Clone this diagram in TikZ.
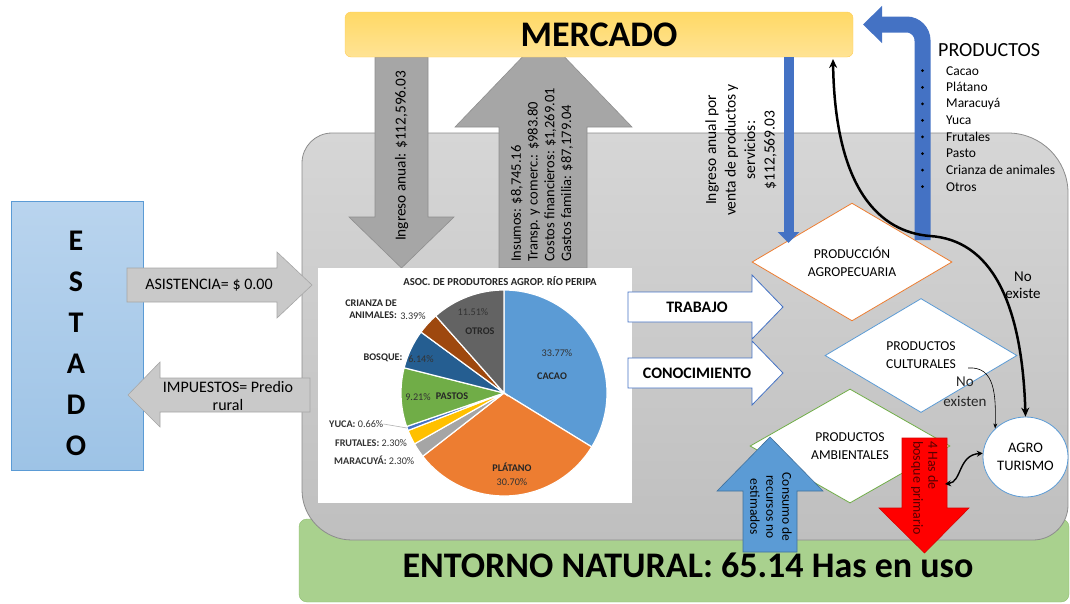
\documentclass[tikz,border=0pt]{standalone}
\usepackage{fontspec}
\setmainfont{Carlito}
\usepackage{tikz}
\usetikzlibrary{arrows.meta,positioning,shapes.geometric,calc}

\definecolor{sysgray}{HTML}{BFBFBF}
\definecolor{systop}{HTML}{D6D6D6}
\definecolor{sysline}{HTML}{8C8C8C}
\definecolor{natgreen}{HTML}{A9D18E}
\definecolor{natline}{HTML}{8CBD6C}
\definecolor{mktgold}{HTML}{FFD966}
\definecolor{mktlight}{HTML}{FFE394}
\definecolor{estblue}{HTML}{9DC3E6}
\definecolor{estlight}{HTML}{B9D4EE}
\definecolor{estline}{HTML}{5B9BD5}
\definecolor{flowgray}{HTML}{A6A6A6}
\definecolor{flowline}{HTML}{8F8F8F}
\definecolor{taxgray}{HTML}{C9C9C9}
\definecolor{taxline}{HTML}{A6A6A6}
\definecolor{prodblue}{HTML}{4472C4}
\definecolor{skyblue}{HTML}{5B9BD5}
\definecolor{skyline}{HTML}{41719C}
\definecolor{agroorange}{HTML}{ED7D31}
\definecolor{agrogreen}{HTML}{70AD47}
% pie colours
\definecolor{pcacao}{HTML}{5B9BD5}
\definecolor{pplatano}{HTML}{ED7D31}
\definecolor{pmaracuya}{HTML}{A5A5A5}
\definecolor{pfrutales}{HTML}{FFC000}
\definecolor{pyuca}{HTML}{4472C4}
\definecolor{ppastos}{HTML}{70AD47}
\definecolor{pbosque}{HTML}{255E91}
\definecolor{pcrianza}{HTML}{9E480E}
\definecolor{potros}{HTML}{636363}

\begin{document}
\begin{tikzpicture}[x=1pt, y=-1pt,
    every node/.style={inner sep=0pt, align=center},
    pielbl/.style={font=\fontsize{10.2}{12}\selectfont, text=black!80},
    piebold/.style={font=\fontsize{10.2}{12}\selectfont\bfseries, text=black!85},
    flowarrow/.style={fill=flowgray, draw=flowline, line width=0.6pt},
    taxarrow/.style={fill=taxgray, draw=taxline, line width=0.6pt},
    whitearrow/.style={fill=white, draw=prodblue, line width=0.8pt},
    diamondbox/.style={diamond, draw, fill=white, line width=0.8pt, minimum width=200, minimum height=114, font=\fontsize{13.6}{18}\selectfont}]
  \useasboundingbox (0,0) rectangle (1070,603);

  % natural environment and the system
  \draw[fill=natgreen, draw=natline, rounded corners=8pt] (299,519) rectangle (1069,602);
  \draw[top color=systop, bottom color=sysgray, draw=sysline, line width=0.8pt]
    (302,163) arc[start angle=180, end angle=270, radius=30] -- (1008,133)
    arc[start angle=270, end angle=360, radius=60] -- (1068,505)
    arc[start angle=0, end angle=90, radius=35] -- (352,540)
    arc[start angle=90, end angle=180, radius=50] -- cycle;
  \node[font=\fontsize{36}{40}\selectfont\bfseries] (entorno) at (688,565) {ENTORNO NATURAL: 65.14 Has en uso};

  % flows with the market
  \draw[flowarrow] (375,57) -- (428,57) -- (428,217) -- (454,217) -- (401.5,268) -- (349,217) -- (375,217) -- cycle;
  \node[rotate=90, font=\fontsize{15.3}{18}\selectfont] (ingreso) at (401.5,156) {Ingreso anual: \$112,596.03};
  \draw[flowarrow] (499,268) -- (499,127) -- (455,127) -- (543.5,35) -- (632,127) -- (587,127) -- (587,268) -- cycle;
  \node[rotate=90, anchor=west, align=left, font=\fontsize{14.5}{16.7}\selectfont] (costos) at (542,262)
    {Insumos: \$8,745.16\\Transp. y comerc.: \$983.80\\Costos financieros: \$1,269.01\\Gastos familia: \$87,179.04};

  \node[draw=mktgold!85!orange, top color=mktgold, bottom color=mktlight, rounded corners=6pt,
    minimum width=508, minimum height=45, font=\fontsize{36}{40}\selectfont\bfseries] (mercado) at (599,34.5) {MERCADO};

  % state
  \node[draw=estline, top color=estlight, bottom color=estblue, line width=0.8pt,
    minimum width=132, minimum height=269] (estado) at (77,335.5) {};
  \node[font=\fontsize{30}{41}\selectfont\bfseries] (estadotxt) at (76,343) {E\\S\\T\\A\\D\\O};
  \draw[taxarrow] (127,268) -- (277,268) -- (277,252) -- (312,285) -- (277,318) -- (277,302) -- (127,302) -- cycle;
  \node[font=\fontsize{16}{18}\selectfont] (asistencia) at (209,285) {ASISTENCIA= \$ 0.00};
  \draw[taxarrow] (310,378) -- (160,378) -- (160,362) -- (128,395) -- (160,427) -- (160,412) -- (310,412) -- cycle;
  \node[font=\fontsize{16}{18}\selectfont] (impuestos) at (228,396) {IMPUESTOS= Predio\\rural};

  % pie chart
  \node[fill=white, minimum width=314, minimum height=235] (piepanel) at (475,385.5) {};
  \node[font=\fontsize{10.7}{12}\selectfont\bfseries, text=black!85] (pietitle) at (500,281) {ASOC. DE PRODUTORES AGROP. RÍO PERIPA};
  \foreach \pa/\pb/\pc in {-90/31.57/pcacao, 31.57/142.09/pplatano, 142.09/150.37/pmaracuya,
      150.37/158.65/pfrutales, 158.65/161.03/pyuca, 161.03/194.18/ppastos,
      194.18/216.29/pbosque, 216.29/228.49/pcrianza, 228.49/270/potros}
    \filldraw[fill=\pc, draw=white, line width=1.2pt] (504,393) -- ++(\pa:103) arc[start angle=\pa, end angle=\pb, radius=103] -- cycle;
  \node[pielbl] (pcacaoval) at (557,353) {33.77\%};
  \node[piebold] (pcacaotxt) at (552,376) {CACAO};
  \node[piebold] (pplatanotxt) at (512,467) {PLÁTANO};
  \node[pielbl] (pplatanoval) at (512,482) {30.70\%};
  \node[pielbl, anchor=west] (pmaracuyatxt) at (334,460) {\textbf{MARACUYÁ:} 2.30\%};
  \node[pielbl, anchor=west] (pfrutalestxt) at (335,443) {\textbf{FRUTALES:} 2.30\%};
  \node[pielbl, anchor=west] (pyucatxt) at (329,424) {\textbf{YUCA:} 0.66\%};
  \coordinate (yucaslice) at (407,428);
  \draw[black!30, line width=0.6pt] (pyucatxt.east) -- (yucaslice);
  \node[pielbl] (ppastosval) at (418,397) {9.21\%};
  \node[piebold] (ppastostxt) at (452,396) {PASTOS};
  \node[piebold] (pbosquetxt) at (383,358) {BOSQUE:};
  \node[pielbl] (pbosqueval) at (421,359) {6.14\%};
  \node[piebold, anchor=east, align=right] (pcrianzatxt) at (397,309) {CRIANZA DE\\ANIMALES:};
  \node[pielbl] (pcrianzaval) at (413,316) {3.39\%};
  \node[pielbl] (potrosval) at (473,312) {11.51\%};
  \node[piebold] (potrostxt) at (480,331) {OTROS};

  % production
  \node[diamondbox, draw=agroorange] (prodagro) at (852,262) {PRODUCCIÓN\\AGROPECUARIA};
  \node[diamondbox, draw=skyblue, minimum width=192] (prodcult) at (921,355.5) {PRODUCTOS\\CULTURALES};
  \node[diamondbox, draw=agrogreen] (prodamb) at (850,446) {PRODUCTOS\\AMBIENTALES};
  \node[ellipse, draw=skyblue, fill=white, line width=0.8pt, minimum width=85, minimum height=80,
    font=\fontsize{14.5}{18}\selectfont] (agro) at (1025.5,457) {AGRO\\TURISMO};

  \draw[whitearrow] (628,292) -- (752,292) -- (752,275) -- (783,307) -- (752,339) -- (752,322) -- (628,322) -- cycle;
  \node[font=\fontsize{16}{18}\selectfont\bfseries] (trabajo) at (697,307) {TRABAJO};
  \draw[whitearrow] (628,358) -- (752,358) -- (752,341) -- (783,373) -- (752,405) -- (752,388) -- (628,388) -- cycle;
  \node[font=\fontsize{16}{18}\selectfont\bfseries] (conocimiento) at (697,373) {CONOCIMIENTO};

  % income from sales
  \coordinate (ingtip) at (788.5,243);
  \draw[prodblue, line width=10pt, -{Triangle[width=21pt, length=11pt]}] (mercado.south -| ingtip) -- (ingtip);
  \node[rotate=90, font=\fontsize{15.5}{19.5}\selectfont] (ingventa) at (741,150)
    {Ingreso anual por\\venta de productos y\\servicios:\\\$112,569.03};

  % products sold
  \coordinate (prodstart) at (922.5,240);
  \coordinate (prodtip) at (863,24.5);
  \draw[prodblue, line width=16pt, rounded corners=16pt, -{Triangle[width=36pt, length=19pt]}] (prodstart) |- (prodtip);
  \node[font=\fontsize{20}{22}\selectfont, anchor=west] (prodtitle) at (938,50) {PRODUCTOS};
  \foreach \crop [count=\i] in {Cacao, Plátano, Maracuyá, Yuca, Frutales, Pasto, Crianza de animales, Otros} {
    \fill (922.5,70.7+16.57*\i-16.57) circle (1.5pt);
    \node[font=\fontsize{13.5}{15}\selectfont, anchor=west] (crop\i) at (946,70.7+16.57*\i-16.57) {\crop};
  }

  % resources
  \draw[fill=skyblue, draw=skyline, line width=0.6pt] (743,552) -- (743,491) -- (717,491) -- (770,437) -- (823,491) -- (797,491) -- (797,552) -- cycle;
  \node[rotate=-90, font=\fontsize{13.5}{16}\selectfont] (consumo) at (771,507) {Consumo de\\recursos no\\estimados};
  \draw[fill=red, draw=red!85!black, line width=0.6pt] (902,438) -- (947,438) -- (947,508) -- (969,508) -- (924.5,553) -- (879,508) -- (902,508) -- cycle;
  \node[rotate=-90, anchor=west, align=left, text=red!35!black, font=\fontsize{14}{15}\selectfont] (bosque) at (924.5,441) {4 Has de\\bosque primario};

  % agrotourism links
  \coordinate (mktin) at (833,59);
  \draw[line width=2.5pt, {Stealth[length=9pt, width=8pt]}-{Stealth[length=9pt, width=8pt]}]
    (mktin) .. controls (835,190) and (880,232) .. (930,236)
    .. controls (990,240) and (1022,300) .. (agro.north);
  \node[font=\fontsize{15}{17}\selectfont] (noexiste) at (1023,285) {No\\existe};
  \coordinate (cultout) at (968,368);
  \draw[line width=0.6pt, -{Stealth[length=5pt, width=4pt]}] (cultout) .. controls (995,366) and (996,395) .. (agro.north west);
  \node[font=\fontsize{15}{20}\selectfont, text=black!85] (noexisten) at (965,392) {No\\existen};
  \coordinate (bosqueside) at (945,484);
  \draw[line width=1.4pt, {Stealth[length=6pt, width=6pt]}-{Stealth[length=6pt, width=6pt]}]
    (bosqueside) .. controls (962,482) and (958,455) .. (agro.175);
\end{tikzpicture}
\end{document}
